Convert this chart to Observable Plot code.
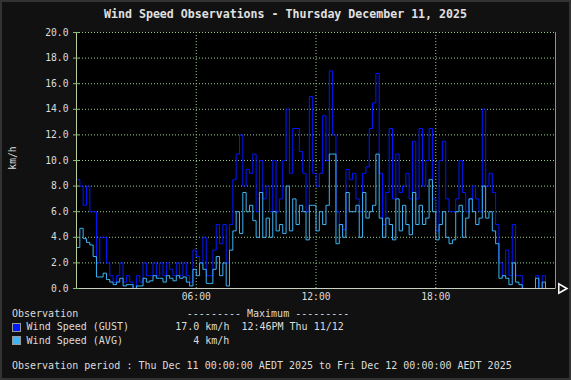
<!DOCTYPE html>
<html><head><meta charset="utf-8">
<script src="https://cdn.jsdelivr.net/npm/d3@7"></script>
<script src="https://cdn.jsdelivr.net/npm/@observablehq/plot@0.6"></script>
<style>
html,body{margin:0;padding:0;background:#111;}
#wrap{position:relative;width:571px;height:380px;background:#111;overflow:hidden;font-family:"DejaVu Sans Mono",monospace;color:#dcdcdc;}
#border{position:absolute;left:0;top:0;width:571px;height:380px;border:2px solid #333;box-sizing:border-box;pointer-events:none;z-index:5}
#chart{position:absolute;left:0;top:0;}
.t{position:absolute;white-space:pre;font-size:10px;line-height:10px;}
#title{position:absolute;left:0;top:9px;width:571px;text-align:center;font-size:11.6px;line-height:11.6px;font-weight:bold;color:#e0e0e0;white-space:pre;}
#ylab{position:absolute;left:12.5px;top:158px;font-size:9.7px;line-height:9.7px;transform:translate(-50%,-50%) rotate(-90deg);white-space:pre;}
.sw{position:absolute;width:7px;height:7px;border:1px solid #999;}
</style></head>
<body>
<div id="wrap">
  <div id="chart"></div>
  <div id="title"></div>
  <div id="ylab"></div>
  <div id="legend"></div>
  <div id="border"></div>
</div>
<script>
// ---- data (10-minute samples, km/h) ----
const title = "Wind Speed Observations - Thursday December 11, 2025";
const yLabel = "km/h";
const seriesNames = ["Wind Speed (GUST)", "Wind Speed (AVG)"];
const seriesColors = ["#0018ff", "#3cb4f5"];
const maxValues = ["17.0 km/h", "4 km/h"];
const maxTimes = ["12:46PM Thu 11/12", ""];
const periodText = "Observation period : Thu Dec 11 00:00:00 AEDT 2025 to Fri Dec 12 00:00:00 AEDT 2025";
const xTicks = [6, 12, 18];
const xTickLabels = ["06:00", "12:00", "18:00"];
const yTicks = [0, 2, 4, 6, 8, 10, 12, 14, 16, 18, 20];

const gust00 = [8.5, 8.0, 6.5, 8.0, 6.0, 6.0, 2.0, 4.0, 4.0, 2.0, 1.0, 0.5];
const avg00  = [3.2, 4.7, 3.9, 3.6, 3.4, 2.5, 0.9, 0.9, 1.2, 0.7, 0.5, 0.3];
const gust02 = [1.0, 2.0, 0.5, 1.0, 0.5, 0.0, 1.0, 0.5, 2.0, 1.0, 1.0, 2.0, 1.0, 2.0, 1.0, 2.0, 1.5, 1.0, 2.0, 1.0, 2.0, 1.0, 0.5, 3.0];
const avg02  = [0.5, 0.8, 0.2, 0.3, 0.3, 0.0, 0.2, 0.2, 0.8, 0.5, 0.6, 1.0, 0.8, 0.8, 0.5, 1.0, 0.8, 0.6, 1.0, 0.8, 0.9, 0.5, 0.2, 1.5];
const gust06 = [2.5, 2.0, 4.0, 1.0, 1.0, 3.0, 5.0, 3.5, 5.0, 2.0, 5.0, 8.5, 10.5, 12.0, 8.0, 9.3, 9.0, 10.5, 6.0, 10.0, 7.0, 8.0, 6.0, 10.0, 6.0, 7.0, 10.0, 14.0, 9.0, 12.5];
const avg06  = [1.0, 2.0, 1.5, 0.4, 0.4, 1.5, 2.5, 1.0, 2.0, 0.2, 3.0, 4.5, 6.0, 4.3, 7.5, 6.0, 6.5, 5.3, 4.0, 7.5, 4.0, 5.5, 4.0, 6.0, 4.5, 5.0, 4.3, 8.0, 4.5, 7.0];
const gust11 = [12.5, 10.7, 9.0, 6.0, 15.0, 9.0, 8.0, 9.0, 13.5, 10.0, 17.0, 12.0, 6.0, 5.0, 4.6, 9.3, 8.5, 9.0, 7.0, 6.0, 9.0, 9.5, 12.5, 14.5, 16.8, 9.0, 5.0];
const avg11  = [5.0, 6.5, 6.0, 3.8, 6.5, 6.5, 4.5, 6.0, 5.0, 6.5, 10.5, 10.5, 3.5, 5.0, 4.0, 7.5, 6.0, 6.0, 6.5, 4.0, 7.5, 5.5, 6.0, 6.5, 10.5, 5.5, 4.0];
const gust15 = [7.5, 12.5, 7.0, 10.5, 7.5, 8.0, 9.0, 7.0, 11.5, 7.0, 12.5, 8.0, 10.0, 12.5, 7.0, 4.5, 10.0, 11.5, 7.0, 6.0, 6.0, 7.0, 10.0, 7.5, 6.0, 7.0, 8.0, 7.0, 6.0, 14.0];
const avg15  = [5.5, 5.0, 3.8, 7.0, 4.5, 6.5, 5.0, 4.2, 7.5, 5.0, 6.5, 5.0, 5.5, 8.5, 6.0, 3.8, 5.0, 6.0, 4.0, 3.5, 3.8, 6.0, 6.5, 4.0, 5.5, 7.0, 6.0, 5.0, 5.5, 8.0];
const gust20 = [8.0, 9.0, 7.5, 5.0, 2.0, 1.0, 3.0, 1.0, 5.0, 1.0, 1.0, 0, 0, 0, 0, 1.0, 0, 1.0, 0, 0, 0];
const avg20  = [5.5, 6.0, 4.5, 3.5, 0.8, 1.0, 0.8, 0.3, 2.0, 0.5, 0.3, 0, 0, 0, 0, 0.8, 0, 0.5, 0, 0, 0];

const gust = [...gust00, ...gust02, ...gust06, ...gust11, ...gust15, ...gust20];
const avg  = [...avg00, ...avg02, ...avg06, ...avg11, ...avg15, ...avg20];
const rows = gust.map((g, i) => ({t: i / 6, gust: g, avg: avg[i]}));
rows.push({t: 24, gust: gust[gust.length - 1], avg: avg[avg.length - 1]});

const grid = "#99cc88";
const chart = Plot.plot({
  width: 571, height: 310,
  marginLeft: 76, marginRight: 16, marginTop: 32, marginBottom: 22,
  style: {background: "transparent", color: "#dcdcdc", fontFamily: "'DejaVu Sans Mono', monospace", fontSize: "9.7px"},
  x: {domain: [0, 24], ticks: xTicks, tickFormat: d => xTickLabels[xTicks.indexOf(d)], tickSize: 0, tickPadding: 5, label: null},
  y: {domain: [0, 20], ticks: yTicks, tickFormat: d3.format(".1f"), tickSize: 0, tickPadding: 8, label: null},
  marks: [
    Plot.frame({fill: "black", stroke: "none"}),
    Plot.ruleY(yTicks.filter(d => d > 0), {stroke: grid, strokeDasharray: "1,2"}),
    Plot.ruleX(xTicks, {stroke: grid, strokeDasharray: "1,2"}),
    Plot.line(rows, {x: "t", y: "gust", curve: "step-after", stroke: seriesColors[0], strokeWidth: 1}),
    Plot.line(rows, {x: "t", y: "avg", curve: "step-after", stroke: seriesColors[1], strokeWidth: 1}),
    Plot.ruleX([24], {stroke: "#999944"}),
    Plot.ruleX([0], {stroke: "#bbcc99"}),
    Plot.ruleY([0], {stroke: "#c8d0c0"}),
    Plot.ruleY(yTicks, {x1: -0.15, x2: 0.15, stroke: "#88bb77"}),
    Plot.dot([{t: 24, v: 0}], {x: "t", y: "v", symbol: "triangle", rotate: 90, r: 3.5, stroke: "#fff", fill: "#111", dx: 6})
  ]
});
document.getElementById("chart").appendChild(chart);
document.getElementById("title").textContent = title;
document.getElementById("ylab").textContent = yLabel;

const lg = document.getElementById("legend");
function txt(s, left, top) {
  const d = document.createElement("div");
  d.className = "t"; d.textContent = s;
  d.style.left = left + "px"; d.style.top = top + "px";
  lg.appendChild(d);
}
txt("Observation", 12, 309);
txt("--------- Maximum ---------", 186.8, 309);
seriesNames.forEach((name, i) => {
  const top = 322 + i * 13.5;
  const sw = document.createElement("div");
  sw.className = "sw"; sw.style.background = seriesColors[i];
  sw.style.left = "12px"; sw.style.top = (top + 0.5) + "px";
  lg.appendChild(sw);
  txt(name, 26.6, top);
  const mv = maxValues[i];
  txt(mv, 229.4 - mv.length * 6.02, top);
  if (maxTimes[i]) txt(maxTimes[i], 241.4, top);
});
txt(periodText, 12, 361);
</script>
</body></html>
